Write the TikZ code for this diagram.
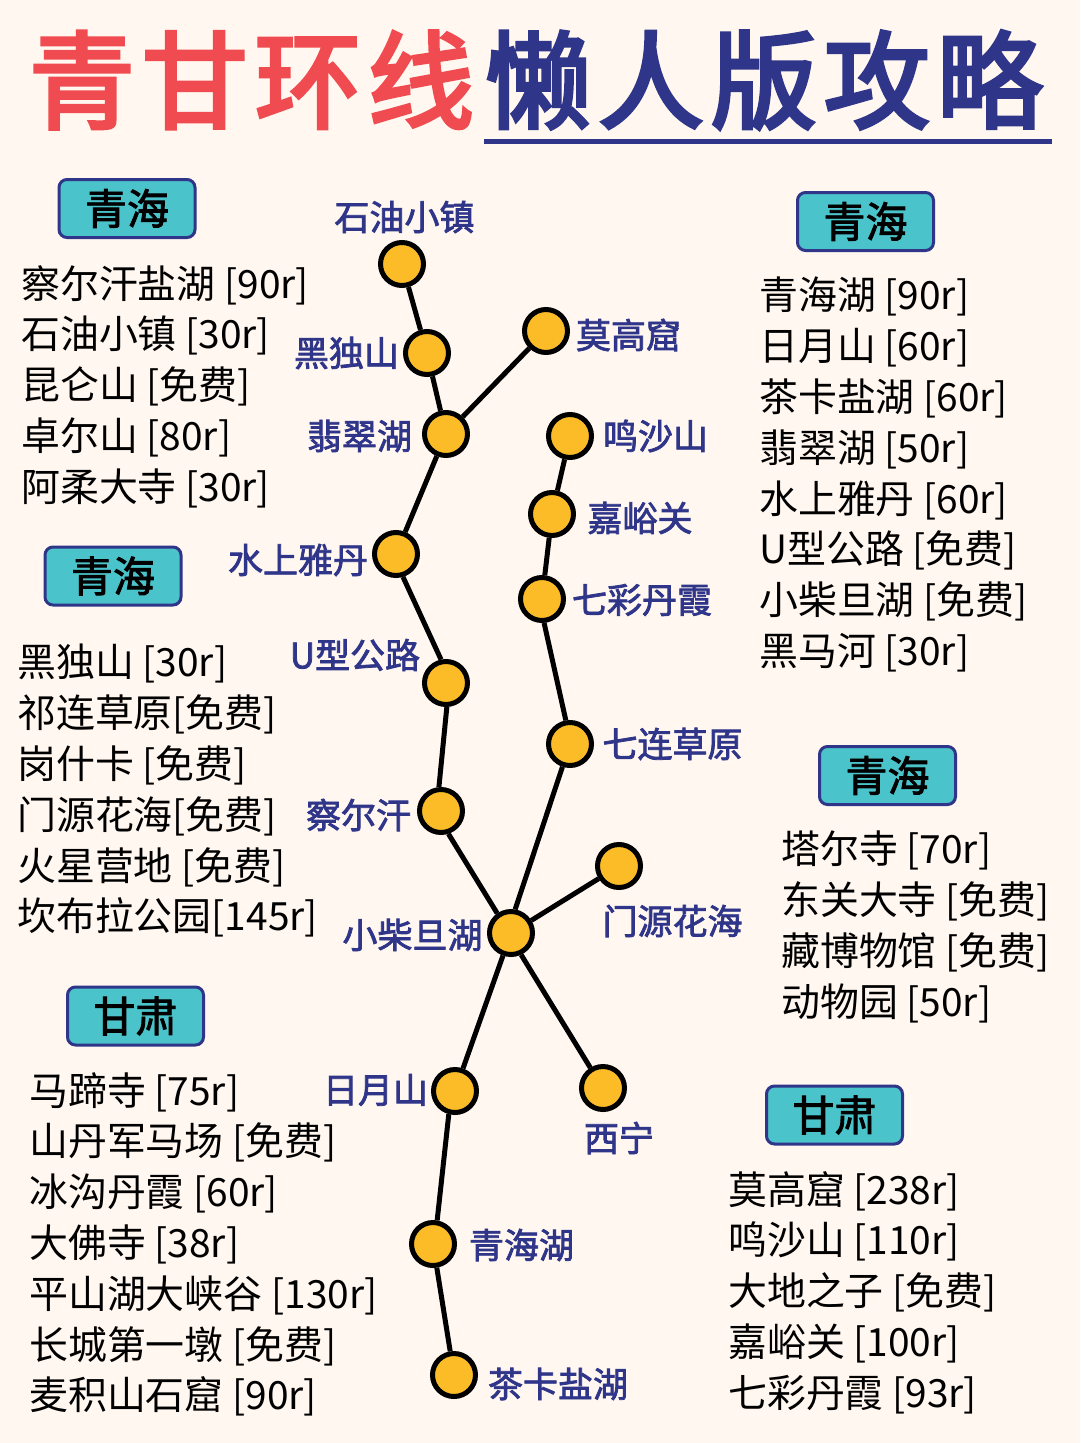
\documentclass[tikz,border=0pt]{standalone}
\usepackage{fontspec}
\setmainfont{Noto Sans CJK SC}
\newfontfamily\cjkmid[FakeBold=2.2]{Noto Sans CJK SC}
\newfontfamily\cjktitle[LetterSpace=6.6,FakeBold=3.5]{Noto Sans CJK SC}
\definecolor{pagebg}{HTML}{FFF7F0}
\definecolor{navyblue}{HTML}{2F3589}
\definecolor{titlered}{HTML}{F04B50}
\definecolor{tagteal}{HTML}{4BC3CB}
\definecolor{stopfill}{HTML}{FBBC28}

\begin{document}
\begin{tikzpicture}[x=1pt, y=-1pt,
  main/.style = {draw, circle, line width=5pt, fill=stopfill, minimum size=43pt, inner sep=0pt},
  link/.style = {line width=5pt},
  stoplabel/.style = {text=navyblue, inner sep=0pt, font=\cjkmid\fontsize{35}{35}\selectfont},
  tagbox/.style = {draw=navyblue, line width=3pt, fill=tagteal, rounded corners=8pt, minimum width=136pt, minimum height=58pt, inner sep=0pt, font=\cjkmid\fontsize{42}{42}\selectfont},
  spotlist/.style = {anchor=north west, align=left, inner sep=0pt, font=\fontsize{38.9}{50.8}\selectfont}]
\useasboundingbox (0,0) rectangle (1080,1443);
\fill[pagebg] (0,0) rectangle (1080,1443);
% title
\node[inner sep=0pt, text=titlered, font=\cjktitle\fontsize{106}{106}\selectfont] (t1) at (251.5,80) {青甘环线};
\node[inner sep=0pt, text=navyblue, font=\cjktitle\fontsize{106}{106}\selectfont] (t2) at (764,80) {懒人版攻略};
\draw[navyblue, line width=5pt] (484,141) -- (1052,141);
% stops
\node[main] (1) at (402,264) {};
\node[main] (2) at (427,353) {};
\node[main] (3) at (446,434) {};
\node[main] (4) at (546,331) {};
\node[main] (5) at (396,554) {};
\node[main] (6) at (446,683) {};
\node[main] (7) at (441,811) {};
\node[main] (8) at (511,933) {};
\node[main] (9) at (570,744) {};
\node[main] (10) at (542,599) {};
\node[main] (11) at (552,514) {};
\node[main] (12) at (570,436) {};
\node[main] (13) at (619,866) {};
\node[main] (14) at (603,1088) {};
\node[main] (15) at (455,1091) {};
\node[main] (16) at (433,1244) {};
\node[main] (17) at (454,1375) {};
\draw[link] (1) -- (2);
\draw[link] (2) -- (3);
\draw[link] (3) -- (4);
\draw[link] (3) -- (5);
\draw[link] (5.-73) -- (6.102);
\draw[link] (6.-88) -- (7.95);
\draw[link] (7.-72) -- (8.125);
\draw[link] (8.80) -- (9);
\draw[link] (9.100) -- (10.-85);
\draw[link] (10) -- (11);
\draw[link] (11) -- (12);
\draw[link] (8) -- (13);
\draw[link] (8.-65) -- (14.122);
\draw[link] (8) -- (15);
\draw[link] (15.-105) -- (16.80);
\draw[link] (16) -- (17);
% stop names
\node[stoplabel] (n1) at (404.5,217) {石油小镇};
\node[stoplabel] (n2) at (346.5,353) {黑独山};
\node[stoplabel] (n3) at (359.5,436) {翡翠湖};
\node[stoplabel] (n4) at (628.5,335) {莫高窟};
\node[stoplabel] (n5) at (298,560) {水上雅丹};
\node[stoplabel] (n6) at (355,655) {U型公路};
\node[stoplabel] (n7) at (358.5,815) {察尔汗};
\node[stoplabel] (n8) at (412.5,935) {小柴旦湖};
\node[stoplabel] (n9) at (672.5,744) {七连草原};
\node[stoplabel] (n10) at (642,600) {七彩丹霞};
\node[stoplabel] (n11) at (640,518) {嘉峪关};
\node[stoplabel] (n12) at (655.5,436) {鸣沙山};
\node[stoplabel] (n13) at (672.5,921) {门源花海};
\node[stoplabel] (n14) at (619,1138) {西宁};
\node[stoplabel] (n15) at (375.5,1090) {日月山};
\node[stoplabel] (n16) at (521.5,1245) {青海湖};
\node[stoplabel] (n17) at (558,1384) {茶卡盐湖};
% tags and lists
\node[tagbox] (qh1) at (127,208.5) {青海};
\node[tagbox] (qh2) at (113,576) {青海};
\node[tagbox] (gs1) at (135.5,1016) {甘肃};
\node[tagbox] (qh3) at (865.5,221.5) {青海};
\node[tagbox] (qh4) at (887.5,775.5) {青海};
\node[tagbox] (gs2) at (834.5,1115) {甘肃};
\node[spotlist] (l1) at (21,265) {察尔汗盐湖 [90r]\\石油小镇 [30r]\\昆仑山 [免费]\\卓尔山 [80r]\\阿柔大寺 [30r]};
\node[spotlist] (l2) at (17,644) {黑独山 [30r]\\祁连草原[免费]\\岗什卡 [免费]\\门源花海[免费]\\火星营地 [免费]\\坎布拉公园[145r]};
\node[spotlist] (l3) at (29,1072) {马蹄寺 [75r]\\山丹军马场 [免费]\\冰沟丹霞 [60r]\\大佛寺 [38r]\\平山湖大峡谷 [130r]\\长城第一墩 [免费]\\麦积山石窟 [90r]};
\node[spotlist] (l4) at (759,277) {青海湖 [90r]\\日月山 [60r]\\茶卡盐湖 [60r]\\翡翠湖 [50r]\\水上雅丹 [60r]\\U型公路 [免费]\\小柴旦湖 [免费]\\黑马河 [30r]};
\node[spotlist] (l5) at (781,831) {塔尔寺 [70r]\\东关大寺 [免费]\\藏博物馆 [免费]\\动物园 [50r]};
\node[spotlist] (l6) at (728,1171) {莫高窟 [238r]\\鸣沙山 [110r]\\大地之子 [免费]\\嘉峪关 [100r]\\七彩丹霞 [93r]};
\end{tikzpicture}
\end{document}
